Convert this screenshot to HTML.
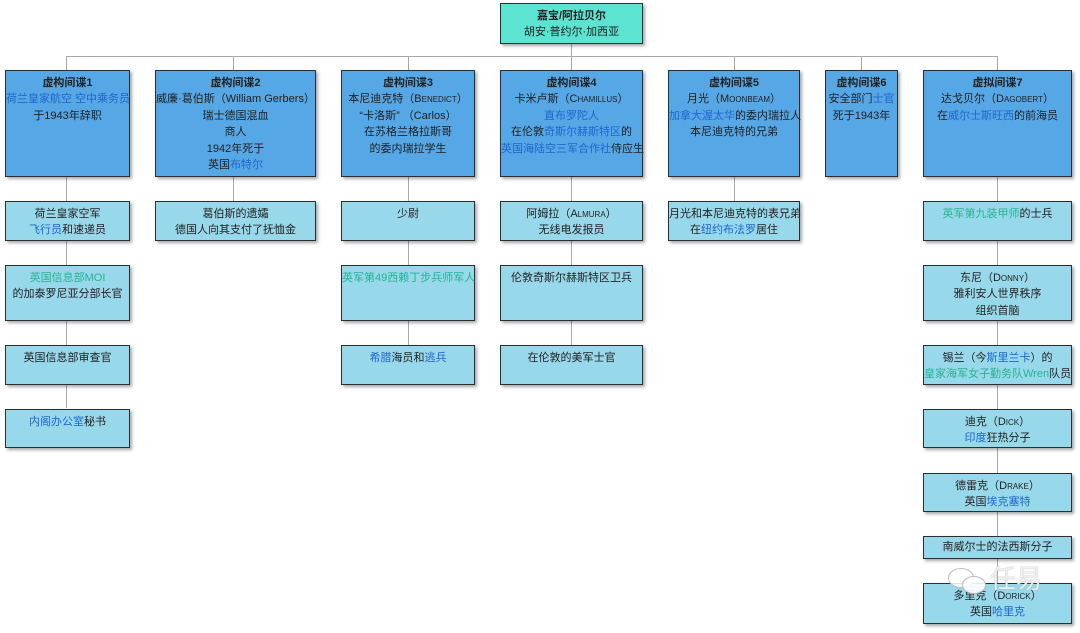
<!DOCTYPE html>
<html><head><meta charset="utf-8">
<style>
html,body{margin:0;padding:0;background:#fff;}
body{width:1080px;height:633px;position:relative;overflow:hidden;font-family:"Liberation Sans","Noto Sans CJK SC",sans-serif;font-size:11px;color:#222;}
.b{position:absolute;box-sizing:border-box;border:1.5px solid #2a2f36;text-align:center;line-height:16.5px;padding-top:3.5px;box-shadow:2px 2px 3px rgba(0,0,0,0.35);white-space:nowrap;}
.l1{background:#56a7e6;}
.l2{background:#98d8eb;}
.top{background:#5de3d2;}
.t{font-weight:bold;}
.u{color:#1e66cc;}
.g{color:#25b394;}
.sc{font-variant:small-caps;}
.h{position:absolute;background:#a9a9a9;}
</style></head><body>
<div class="h" style="left:66px;top:56px;width:931px;height:1px"></div>
<div class="h" style="left:571px;top:43px;width:1px;height:27px"></div>
<div class="h" style="left:66px;top:56px;width:1px;height:352px"></div>
<div class="h" style="left:233px;top:56px;width:1px;height:145px"></div>
<div class="h" style="left:408px;top:56px;width:1px;height:289px"></div>
<div class="h" style="left:571px;top:56px;width:1px;height:289px"></div>
<div class="h" style="left:734px;top:56px;width:1px;height:145px"></div>
<div class="h" style="left:861px;top:56px;width:1px;height:14px"></div>
<div class="h" style="left:997px;top:56px;width:1px;height:527px"></div>

<div class="b top" style="left:500px;top:3px;width:143px;height:41px"><span class="t">嘉宝/阿拉贝尔</span><br>胡安·普约尔·加西亚</div>

<div class="b l1" style="left:5px;top:70px;width:125px;height:107px"><span class="t">虚构间谍1</span><br><span class="u">荷兰皇家航空&nbsp;空中乘务员</span><br>于1943年辞职</div>
<div class="b l1" style="left:155px;top:70px;width:161px;height:107px"><span class="t">虚构间谍2</span><br>威廉·葛伯斯（William Gerbers）<br>瑞士德国混血<br>商人<br>1942年死于<br>英国<span class="u">布特尔</span></div>
<div class="b l1" style="left:341px;top:70px;width:134px;height:107px"><span class="t">虚构间谍3</span><br>本尼迪克特（<span class="sc">Benedict</span>）<br>“卡洛斯” （Carlos）<br>在苏格兰格拉斯哥<br>的委内瑞拉学生</div>
<div class="b l1" style="left:500px;top:70px;width:143px;height:107px"><span class="t">虚构间谍4</span><br>卡米卢斯（<span class="sc">Chamillus</span>）<br><span class="u">直布罗陀人</span><br>在伦敦<span class="u">奇斯尔赫斯特区</span>的<br><span class="u">英国海陆空三军合作社</span>侍应生</div>
<div class="b l1" style="left:668px;top:70px;width:132px;height:107px"><span class="t">虚构间谍5</span><br>月光（<span class="sc">Moonbeam</span>）<br><span class="u">加拿大渥太华</span>的委内瑞拉人<br>本尼迪克特的兄弟</div>
<div class="b l1" style="left:825px;top:70px;width:73px;height:107px"><span class="t">虚构间谍6</span><br>安全部门<span class="u">士官</span><br>死于1943年</div>
<div class="b l1" style="left:923px;top:70px;width:149px;height:107px"><span class="t">虚拟间谍7</span><br>达戈贝尔（<span class="sc">Dagobert</span>）<br>在<span class="u">威尔士斯旺西</span>的前海员</div>

<div class="b l2" style="left:5px;top:201px;width:125px;height:40px">荷兰皇家空军<br><span class="u">飞行员</span>和速递员</div>
<div class="b l2" style="left:155px;top:201px;width:161px;height:40px">葛伯斯的遗孀<br>德国人向其支付了抚恤金</div>
<div class="b l2" style="left:341px;top:201px;width:134px;height:40px">少尉</div>
<div class="b l2" style="left:500px;top:201px;width:143px;height:40px">阿姆拉（<span class="sc">Almura</span>）<br>无线电发报员</div>
<div class="b l2" style="left:668px;top:201px;width:132px;height:40px">月光和本尼迪克特的表兄弟<br>在<span class="u">纽约布法罗</span>居住</div>
<div class="b l2" style="left:923px;top:201px;width:149px;height:40px"><span class="g">英军第九装甲师</span>的士兵</div>

<div class="b l2" style="left:5px;top:265px;width:125px;height:56px"><span class="g">英国信息部MOI</span><br>的加泰罗尼亚分部长官</div>
<div class="b l2" style="left:341px;top:265px;width:134px;height:56px"><span class="g">英军第49西赖丁步兵师军人</span></div>
<div class="b l2" style="left:500px;top:265px;width:143px;height:56px">伦敦奇斯尔赫斯特区卫兵</div>
<div class="b l2" style="left:923px;top:265px;width:149px;height:56px">东尼（<span class="sc">Donny</span>）<br>雅利安人世界秩序<br>组织首脑</div>

<div class="b l2" style="left:5px;top:345px;width:125px;height:40px">英国信息部审查官</div>
<div class="b l2" style="left:341px;top:345px;width:134px;height:40px"><span class="u">希腊</span>海员和<span class="u">逃兵</span></div>
<div class="b l2" style="left:500px;top:345px;width:143px;height:40px">在伦敦的美军士官</div>
<div class="b l2" style="left:923px;top:345px;width:149px;height:40px">锡兰（今<span class="u">斯里兰卡</span>）的<br><span class="g">皇家海军女子勤务队Wren</span>队员</div>

<div class="b l2" style="left:5px;top:409px;width:125px;height:39px"><span class="u">内阁办公室</span>秘书</div>
<div class="b l2" style="left:923px;top:409px;width:149px;height:39px">迪克（<span class="sc">Dick</span>）<br><span class="u">印度</span>狂热分子</div>
<div class="b l2" style="left:923px;top:473px;width:149px;height:39px">德雷克（<span class="sc">Drake</span>）<br>英国<span class="u">埃克塞特</span></div>
<div class="b l2" style="left:923px;top:536px;width:149px;height:23px;padding-top:2px">南威尔士的法西斯分子</div>
<div class="b l2" style="left:923px;top:583px;width:149px;height:41px">多里克（<span class="sc">Dorick</span>）<br>英国<span class="u">哈里克</span></div>

<div style="position:absolute;left:948px;top:568px;width:24px;height:18px;border-radius:50%;background:rgba(255,255,255,0.85);border:1px solid #bbb"></div>
<div style="position:absolute;left:962px;top:576px;width:22px;height:16px;border-radius:50%;background:rgba(255,255,255,0.9);border:1px solid #bbb"></div>
<div style="position:absolute;left:990px;top:564px;font-size:26px;color:rgba(255,255,255,0.85);text-shadow:0 0 1px #888;line-height:30px">任易</div>
</body></html>
